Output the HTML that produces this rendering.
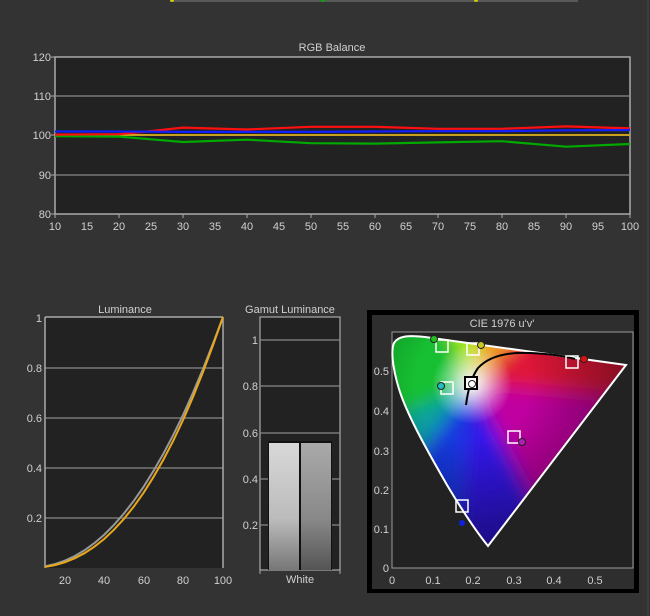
<!DOCTYPE html>
<html><head><meta charset="utf-8"><style>
html,body{margin:0;padding:0;background:#333;}
svg{display:block;font-family:"Liberation Sans",sans-serif;}
text{fill:#d0d0d0;font-size:11px;}
</style></head><body>
<svg width="650" height="616" viewBox="0 0 650 616" xmlns="http://www.w3.org/2000/svg">
<rect width="650" height="616" fill="#333"/>
<line x1="170" y1="1" x2="578" y2="1" stroke="#666" stroke-width="1.5"/>
<circle cx="172" cy="0" r="2" fill="#cc0"/><circle cx="323" cy="0" r="2" fill="#0a0"/><circle cx="476" cy="0" r="2" fill="#cc0"/>
<line x1="648" y1="0" x2="648" y2="616" stroke="#444"/>

<!-- RGB Balance -->
<text x="332" y="51" text-anchor="middle">RGB Balance</text>
<rect x="55" y="57" width="575" height="157" fill="#222" stroke="#aaa" stroke-width="1.5"/>
<g stroke="#888" stroke-width="1.2">
<line x1="55" y1="96" x2="630" y2="96"/><line x1="55" y1="135" x2="630" y2="135"/><line x1="55" y1="175" x2="630" y2="175"/>
</g>
<g font-size="11" text-anchor="end">
<text x="51" y="61">120</text><text x="51" y="100">110</text><text x="51" y="139">100</text><text x="51" y="179">90</text><text x="51" y="218">80</text>
</g>
<g stroke="#aaa"><line x1="51" y1="57" x2="55" y2="57"/><line x1="51" y1="96" x2="55" y2="96"/><line x1="51" y1="135" x2="55" y2="135"/><line x1="51" y1="175" x2="55" y2="175"/><line x1="51" y1="214" x2="55" y2="214"/></g>
<g text-anchor="middle">
<text x="55" y="230">10</text><text x="87" y="230">15</text><text x="119" y="230">20</text><text x="151" y="230">25</text><text x="183" y="230">30</text><text x="215" y="230">35</text><text x="247" y="230">40</text><text x="279" y="230">45</text><text x="311" y="230">50</text><text x="343" y="230">55</text><text x="375" y="230">60</text><text x="406" y="230">65</text><text x="438" y="230">70</text><text x="470" y="230">75</text><text x="502" y="230">80</text><text x="534" y="230">85</text><text x="566" y="230">90</text><text x="598" y="230">95</text><text x="630" y="230">100</text>
</g>
<g stroke="#aaa"><line x1="55" y1="214" x2="55" y2="218"/><line x1="119" y1="214" x2="119" y2="218"/><line x1="183" y1="214" x2="183" y2="218"/><line x1="247" y1="214" x2="247" y2="218"/><line x1="311" y1="214" x2="311" y2="218"/><line x1="375" y1="214" x2="375" y2="218"/><line x1="438" y1="214" x2="438" y2="218"/><line x1="502" y1="214" x2="502" y2="218"/><line x1="566" y1="214" x2="566" y2="218"/><line x1="630" y1="214" x2="630" y2="218"/></g>
<line x1="55" y1="135" x2="630" y2="135" stroke="#c8a020" stroke-width="2"/>
<polyline fill="none" stroke="#0a0" stroke-width="2.2" points="55,136.2 119,136.6 151,139.3 183,142 247,139.7 311,143.2 375,143.6 438,142.4 502,141.2 566,146.7 630,144"/>
<polyline fill="none" stroke="#ff1010" stroke-width="2.2" points="55,134.6 119,134.2 151,131.1 183,127.6 247,129.5 311,126.8 375,126.8 438,128.8 502,128.8 566,126.4 630,128.4"/>
<polyline fill="none" stroke="#1020ff" stroke-width="2.2" points="55,131.5 119,131.5 183,131.9 247,131.9 311,131.9 375,131.5 438,131.1 502,131.1 566,130.3 630,130"/>

<!-- Luminance -->
<text x="125" y="313" text-anchor="middle">Luminance</text>
<rect x="45" y="317" width="178" height="251" fill="#222"/>
<g stroke="#888" stroke-width="1.2"><line x1="45" y1="368" x2="223" y2="368"/><line x1="45" y1="418" x2="223" y2="418"/><line x1="45" y1="468" x2="223" y2="468"/><line x1="45" y1="518" x2="223" y2="518"/></g>
<line x1="45" y1="317" x2="223" y2="317" stroke="#aaa" stroke-width="1.5"/>
<line x1="45" y1="317" x2="45" y2="568" stroke="#aaa" stroke-width="1.5"/>
<line x1="223" y1="317" x2="223" y2="568" stroke="#aaa" stroke-width="1.5"/>
<g text-anchor="end"><text x="42" y="322">1</text><text x="42" y="372">0.8</text><text x="42" y="422">0.6</text><text x="42" y="472">0.4</text><text x="42" y="522">0.2</text></g>
<g text-anchor="middle"><text x="65" y="584">20</text><text x="104" y="584">40</text><text x="144" y="584">60</text><text x="183" y="584">80</text><text x="223" y="584">100</text></g>
<polyline fill="none" stroke="#999" stroke-width="2" points="45,566.4 54.9,564.1 64.8,560.7 74.6,556.1 84.5,550.3 94.4,543.1 104.3,534.6 114.1,524.7 124,513.4 133.9,500.7 143.8,486.4 153.6,470.7 163.5,453.5 173.4,434.7 183.3,414.4 193.1,392.4 203,368.9 212.9,343.8 223,317"/>
<polyline fill="none" stroke="#e8a818" stroke-width="2" points="45,566.9 54.9,565.1 64.8,562.3 74.6,558.3 84.5,553.2 94.4,546.7 104.3,538.9 114.1,529.6 124,518.8 133.9,506.4 143.8,492.4 153.6,476.8 163.5,459.5 173.4,440.4 183.3,419.5 193.1,396.7 203,372 212.9,345.5 223,317"/>

<!-- Gamut Luminance -->
<text x="290" y="313" text-anchor="middle">Gamut Luminance</text>
<rect x="260" y="317" width="80" height="253" fill="#222" stroke="#aaa" stroke-width="1.2"/>
<g stroke="#888" stroke-width="1.2"><line x1="260" y1="340" x2="340" y2="340"/><line x1="260" y1="386" x2="340" y2="386"/><line x1="260" y1="433" x2="340" y2="433"/><line x1="260" y1="479" x2="340" y2="479"/><line x1="260" y1="525" x2="340" y2="525"/></g>
<g text-anchor="end"><text x="258" y="344">1</text><text x="258" y="390">0.8</text><text x="258" y="437">0.6</text><text x="258" y="483">0.4</text><text x="258" y="529">0.2</text></g>
<defs>
<linearGradient id="b1" x1="0" y1="0" x2="0" y2="1"><stop offset="0" stop-color="#d8d8d8"/><stop offset="0.6" stop-color="#bbb"/><stop offset="1" stop-color="#777"/></linearGradient>
<linearGradient id="b2" x1="0" y1="0" x2="0" y2="1"><stop offset="0" stop-color="#aaa"/><stop offset="0.6" stop-color="#888"/><stop offset="1" stop-color="#555"/></linearGradient>
</defs>
<rect x="268" y="441" width="64" height="129" fill="#111"/>
<rect x="269" y="443" width="30" height="127" fill="url(#b1)"/>
<rect x="301" y="443" width="30" height="127" fill="url(#b2)"/>
<text x="300" y="583" text-anchor="middle">White</text>
<g stroke="#aaa"><line x1="260" y1="570" x2="260" y2="574"/><line x1="340" y1="570" x2="340" y2="574"/></g>

<!-- CIE -->
<rect x="367" y="310" width="272" height="283" fill="#000"/>
<rect x="372" y="315" width="262" height="274" fill="#2e2e2e"/>
<text x="502" y="327" text-anchor="middle">CIE 1976 u'v'</text>
<rect x="392" y="332" width="241" height="236" fill="#222" stroke="#999" stroke-width="1"/>
<g text-anchor="end"><text x="389" y="375">0.5</text><text x="389" y="415">0.4</text><text x="389" y="455">0.3</text><text x="389" y="494">0.2</text><text x="389" y="533">0.1</text><text x="389" y="572">0</text></g>
<g text-anchor="middle"><text x="392" y="584">0</text><text x="433" y="584">0.1</text><text x="473" y="584">0.2</text><text x="514" y="584">0.3</text><text x="554" y="584">0.4</text><text x="595" y="584">0.5</text></g>
<defs>
<clipPath id="loc"><path id="lp" d="M488,546 C475,530 462,510 447,485 C428,452 410,420 401,395 C394,375 390,352 394,343 C398,336 408,335 425,337 L626,365 Z"/></clipPath>
<filter id="bl" x="-20%" y="-20%" width="140%" height="140%"><feGaussianBlur stdDeviation="9"/></filter>
<radialGradient id="gw" cx="472" cy="384" r="40" gradientUnits="userSpaceOnUse"><stop offset="0" stop-color="#fff" stop-opacity="0.95"/><stop offset="1" stop-color="#fff" stop-opacity="0"/></radialGradient>
<radialGradient id="gd" cx="472" cy="384" r="190" gradientUnits="userSpaceOnUse"><stop offset="0.3" stop-color="#000" stop-opacity="0"/><stop offset="1" stop-color="#000" stop-opacity="0.55"/></radialGradient>
</defs>
<g clip-path="url(#loc)">
<rect x="385" y="325" width="250" height="230" fill="#333"/>
<g filter="url(#bl)">
<polygon points="472,384 370,430 370,320 445,320" fill="#18c030"/>
<polygon points="472,384 445,320 480,320" fill="#a8f020"/>
<polygon points="472,384 480,320 540,320" fill="#f0a020"/>
<polygon points="472,384 540,320 650,350 650,400" fill="#e01838"/>
<polygon points="472,384 650,400 570,570" fill="#c000a0"/>
<polygon points="472,384 570,570 455,570" fill="#3018e8"/>
<polygon points="472,384 455,570 370,520" fill="#1838e0"/>
<polygon points="472,384 370,520 370,430" fill="#10a0a0"/>
</g>
<rect x="385" y="325" width="250" height="230" fill="url(#gd)"/>
<rect x="385" y="325" width="250" height="230" fill="url(#gw)"/>
</g>
<use href="#lp" fill="none" stroke="#fff" stroke-width="2"/>
<path d="M466,405 C468,390 471,378 478,368 C490,355 510,352 530,353 C550,354 565,356 575,359" fill="none" stroke="#000" stroke-width="2"/>
<g fill="none" stroke="#fff" stroke-width="1.5">
<rect x="436" y="340" width="12" height="12"/><rect x="467" y="343" width="12" height="12"/><rect x="566" y="356" width="12" height="12"/><rect x="441" y="382" width="12" height="12"/><rect x="508" y="431" width="12" height="12"/><rect x="456" y="500" width="12" height="12"/>
</g>
<rect x="465" y="377" width="12" height="12" fill="#fff" stroke="#000" stroke-width="2"/>
<g stroke="#222" stroke-width="1">
<circle cx="434" cy="339" r="3.5" fill="#20c020"/><circle cx="481" cy="345" r="3.5" fill="#c8c820"/><circle cx="584" cy="359" r="3.5" fill="#e01010"/><circle cx="441" cy="386" r="3.5" fill="#20c0c0"/><circle cx="472" cy="384" r="3.5" fill="#fff"/><circle cx="522" cy="442" r="3.5" fill="#b020b0"/><circle cx="462" cy="523" r="3.5" fill="#1020e0"/>
</g>
</svg>
</body></html>
